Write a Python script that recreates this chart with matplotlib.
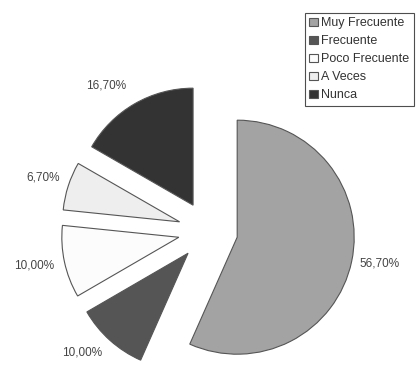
import numpy as np
import matplotlib.pyplot as plt

plt.rcParams['font.family'] = ['Liberation Sans', 'DejaVu Sans']

# Survey answers and their share (%)
categorias = ['Muy Frecuente', 'Frecuente', 'Poco Frecuente', 'A Veces', 'Nunca']
porcentajes = [56.70, 10.00, 10.00, 6.70, 16.70]
colores = ['#a3a3a3', '#555555', '#fcfcfc', '#eeeeee', '#333333']

etiquetas = [('%.2f%%' % v).replace('.', ',') for v in porcentajes]

# label placement: radial distance and angular nudge (deg) per slice
dist_etq = [1.24, 1.24, 1.26, 1.23, 1.27]
giro_etq = [1.7, -5.0, -1.0, 0.0, 6.0]

W, H = 419, 366
fig = plt.figure(figsize=(W / 100, H / 100), dpi=100)
ax = fig.add_axes([0, 0, 1, 1])

# pie center and radius in pixels
cx, cy, rpx = 208, 231, 117
expl = 0.255

wedges, texts = ax.pie(porcentajes, labels=etiquetas, colors=colores,
                       startangle=90, counterclock=False,
                       explode=[expl] * len(porcentajes),
                       labeldistance=1.25,
                       wedgeprops=dict(edgecolor='#555555', linewidth=0.8),
                       textprops=dict(ha='center', va='center',
                                      fontsize=8.5, color='#444444'))

# move each label along its wedge's middle angle
for w, t, d, g in zip(wedges, texts, dist_etq, giro_etq):
    mid = np.deg2rad((w.theta1 + w.theta2) / 2)
    x0, y0 = expl * np.cos(mid), expl * np.sin(mid)
    a = mid + np.deg2rad(g)
    t.set_position((x0 + d * np.cos(a), y0 + d * np.sin(a)))

ax.set_aspect('auto')
ax.set_xlim(-cx / rpx, (W - cx) / rpx)
ax.set_ylim(-(H - cy) / rpx, cy / rpx)
ax.axis('off')

leg = ax.legend(wedges, categorias, loc='upper left',
                bbox_to_anchor=(305 / W, 1 - 13 / H), bbox_transform=fig.transFigure,
                borderaxespad=0, fancybox=False, frameon=True,
                fontsize=9, handlelength=0.7, handleheight=0.7,
                handletextpad=0.25, labelspacing=0.48, borderpad=0.35)
leg.get_frame().set_edgecolor('#222222')
leg.get_frame().set_linewidth(0.8)
for t in leg.get_texts():
    t.set_color('#333333')

fig.savefig('out.png', dpi=100, facecolor='white')
